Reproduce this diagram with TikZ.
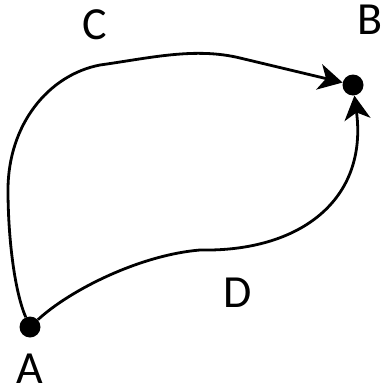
\documentclass[tikz,border=0pt]{standalone}
\usepackage{fontspec}
\setmainfont{Carlito}
\usetikzlibrary{positioning, arrows.meta}

\begin{document}
\begin{tikzpicture}[
                x=1pt, y=-1pt,
                point/.style={circle, fill=black, inner sep=0pt, minimum size=21pt},
                tag/.style={inner sep=0pt, font=\fontsize{46}{50}\selectfont},
                arrow/.style={-{Stealth[length=24pt, width=26pt, inset=7pt]}, line width=2.8pt, draw=black}
            ]
                \useasboundingbox (0,0) rectangle (383,391);

                \node[point] (A) at (30,327) {};
                \node[point] (B) at (353,85)  {};

                \node[tag] (lA) at (30,369) {A};
                \node[tag] (lB) at (370,20) {B};
                \node[tag] (lC) at (95,25)  {C};
                \node[tag] (lD) at (238,293) {D};

                \coordinate (c1) at (8,190);
                \coordinate (c2) at (100,65);
                \coordinate (c3) at (240,58);
                \coordinate (d1) at (200,250);

                \draw[arrow] (A) .. controls (14,290) and (8,235) .. (c1)
                                 .. controls (8,125) and (48,75) .. (c2)
                                 .. controls (150,58) and (195,47) .. (c3) -- (B);
                \draw[arrow] (A) .. controls (70,290) and (140,255) .. (d1)
                                 .. controls (300,252) and (368,200) .. (B);
            \end{tikzpicture}
\end{document}
